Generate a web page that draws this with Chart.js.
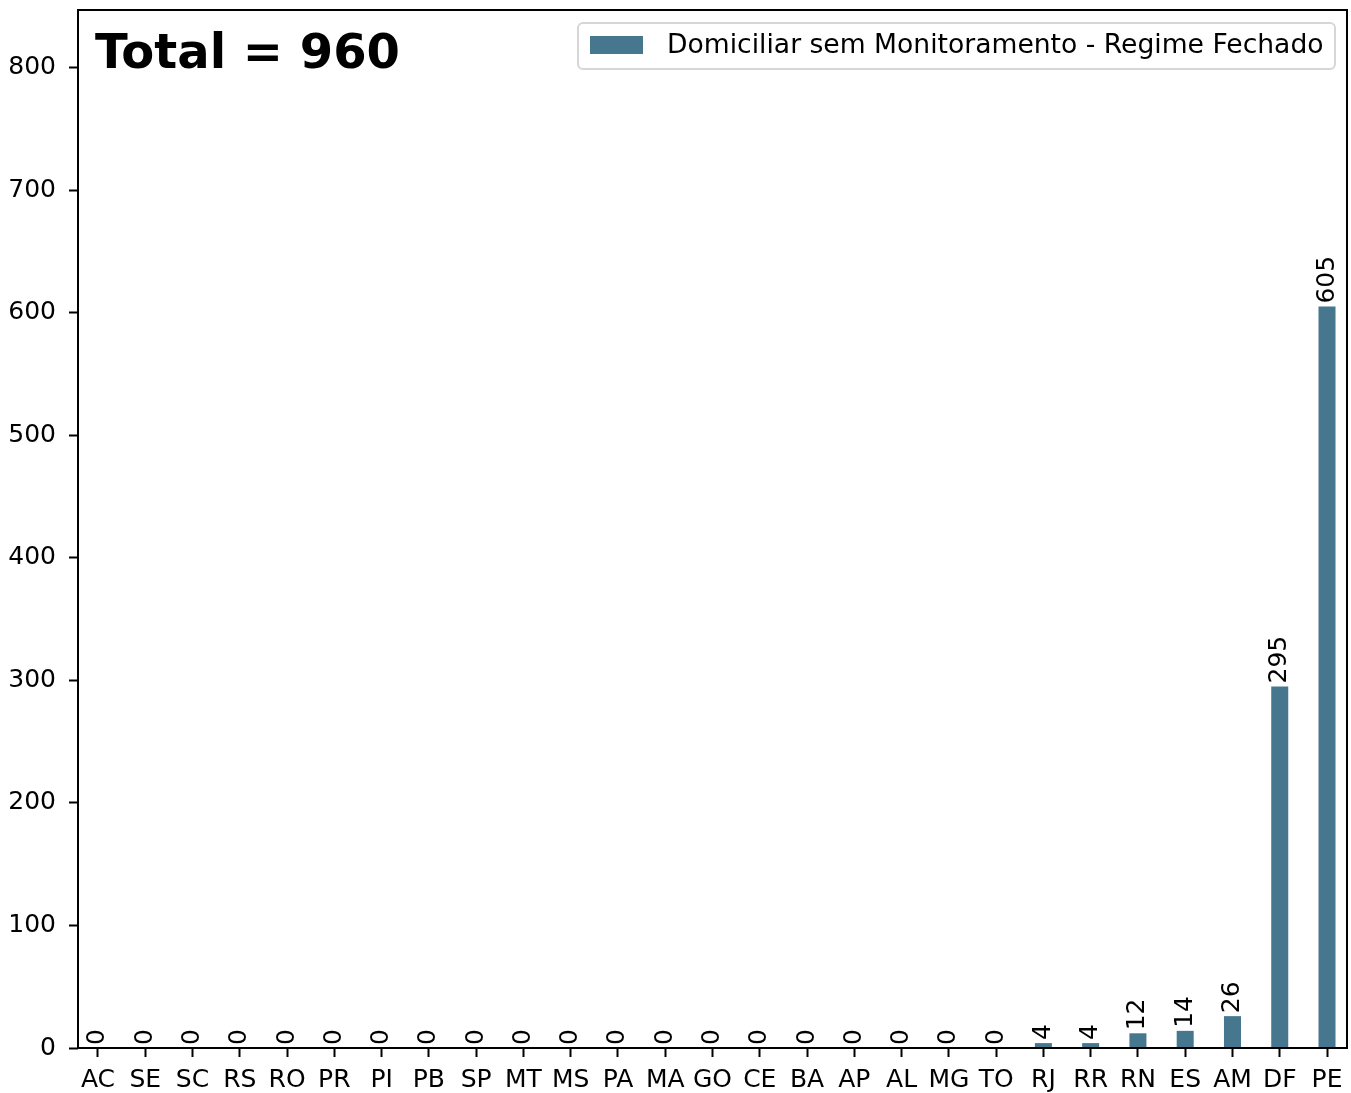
<!DOCTYPE html>
<html>
<head>
<meta charset="utf-8">
<script src="https://cdn.jsdelivr.net/npm/chart.js@4.4.1/dist/chart.umd.min.js"></script>
<style>
  html, body { margin: 0; padding: 0; background: #fff; }
  canvas { display: block; }
</style>
</head>
<body>
<canvas id="chart" width="1351" height="1093"></canvas>
<script>
const states = ['AC', 'SE', 'SC', 'RS', 'RO', 'PR', 'PI', 'PB', 'SP', 'MT', 'MS', 'PA', 'MA',
  'GO', 'CE', 'BA', 'AP', 'AL', 'MG', 'TO', 'RJ', 'RR', 'RN', 'ES', 'AM', 'DF', 'PE'];
const counts = [0, 0, 0, 0, 0, 0, 0, 0, 0, 0, 0, 0, 0,
  0, 0, 0, 0, 0, 0, 0, 4, 4, 12, 14, 26, 295, 605];
const yTicks = [0, 100, 200, 300, 400, 500, 600, 700, 800];
const seriesLabel = 'Domiciliar sem Monitoramento - Regime Fechado';

const barColor = '#46778f';
const FONT = 'DejaVu Sans';
Chart.defaults.font.family = FONT;
Chart.defaults.color = '#000';

const total = counts.reduce((a, b) => a + b, 0);

// drop the extra room Chart.js keeps for edge labels
function noPad(scale) {
  scale.paddingTop = 0;
  scale.paddingBottom = 0;
  scale.paddingLeft = 0;
  scale.paddingRight = 0;
}

// frame around the plot area (matplotlib spines)
const spines = {
  id: 'spines',
  afterDatasetsDraw(chart) {
    const { ctx, chartArea: a } = chart;
    ctx.save();
    ctx.strokeStyle = '#000';
    ctx.lineWidth = 2;
    ctx.strokeRect(a.left, a.top, a.right - a.left, a.bottom - a.top);
    ctx.restore();
  },
};

// rotated value labels above each bar
const barValues = {
  id: 'barValues',
  afterDatasetsDraw(chart) {
    const { ctx } = chart;
    const meta = chart.getDatasetMeta(0);
    ctx.save();
    ctx.fillStyle = '#000';
    ctx.font = `25px "${FONT}"`;
    ctx.textAlign = 'left';
    ctx.textBaseline = 'middle';
    meta.data.forEach((bar, i) => {
      ctx.save();
      ctx.translate(bar.x, bar.y - 3);
      ctx.rotate(-Math.PI / 2);
      ctx.fillText(String(counts[i]), 0, 0);
      ctx.restore();
    });
    ctx.restore();
  },
};

// legend box in the top right and the total in the top left
const annotations = {
  id: 'annotations',
  afterDraw(chart) {
    const { ctx, chartArea: a } = chart;
    ctx.save();
    ctx.fillStyle = '#000';
    ctx.font = `bold 48px "${FONT}"`;
    ctx.textAlign = 'left';
    ctx.textBaseline = 'alphabetic';
    ctx.fillText(`Total = ${total}`, a.left + 17, 68);

    const bx = 578, by = 23, bw = 757, bh = 46;
    ctx.beginPath();
    ctx.roundRect(bx, by, bw, bh, 5);
    ctx.fillStyle = 'rgba(255,255,255,0.8)';
    ctx.fill();
    ctx.strokeStyle = '#d6d6d6';
    ctx.lineWidth = 2;
    ctx.stroke();
    ctx.fillStyle = barColor;
    ctx.fillRect(590, 36, 53, 18);
    ctx.fillStyle = '#000';
    ctx.font = `26.6px "${FONT}"`;
    ctx.textBaseline = 'middle';
    ctx.fillText(chart.data.datasets[0].label, 667, 46);
    ctx.restore();
  },
};

new Chart(document.getElementById('chart'), {
  type: 'bar',
  data: {
    datasets: [{
      label: seriesLabel,
      data: counts.map((v, i) => ({ x: i, y: v })),
      backgroundColor: barColor,
      borderWidth: 0,
      barPercentage: 0.36,
      categoryPercentage: 1,
    }],
  },
  options: {
    responsive: false,
    animation: false,
    layout: { padding: { top: 10, right: 4, left: 0, bottom: 0 } },
    plugins: {
      legend: { display: false },
      tooltip: { enabled: false },
    },
    scales: {
      x: {
        type: 'linear',
        offset: false,
        min: -0.423,
        max: 26.423,
        afterBuildTicks: (scale) => { scale.ticks = states.map((_, i) => ({ value: i })); },
        afterFit: (scale) => { scale.height = 45; noPad(scale); },
        ticks: {
          autoSkip: false,
          maxRotation: 0,
          padding: 8,
          font: { size: 25 },
          color: '#000',
          callback: (v) => states[v],
        },
        grid: {
          display: true,
          offset: false,
          drawOnChartArea: false,
          drawTicks: true,
          tickLength: 9,
          tickWidth: 2,
          tickColor: '#000',
        },
        border: { display: false },
      },
      y: {
        min: 0,
        max: 847,
        afterBuildTicks: (scale) => { scale.ticks = yTicks.map((v) => ({ value: v })); },
        afterFit: (scale) => { scale.width = 78; noPad(scale); },
        ticks: {
          padding: 13,
          font: { size: 25 },
          color: '#000',
        },
        grid: {
          display: true,
          drawOnChartArea: false,
          drawTicks: true,
          tickLength: 9,
          tickWidth: 2,
          tickColor: '#000',
        },
        border: { display: false },
      },
    },
  },
  plugins: [spines, barValues, annotations],
});
</script>
</body>
</html>
